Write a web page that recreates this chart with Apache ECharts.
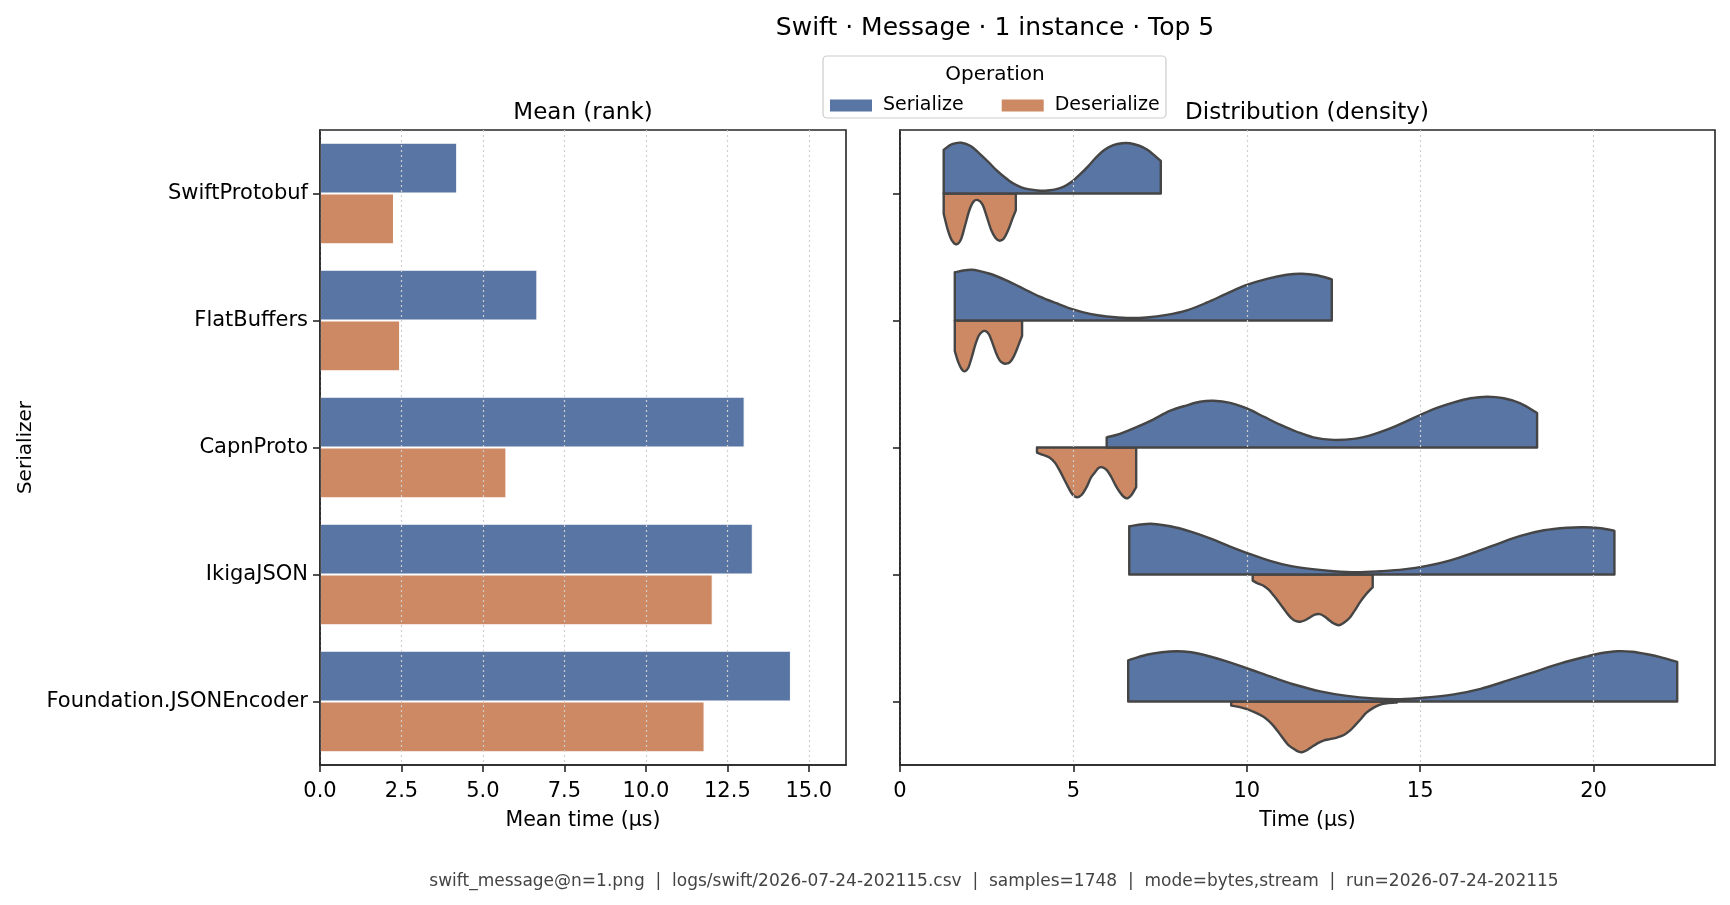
<!DOCTYPE html>
<html><head><meta charset="utf-8">
<script src="https://cdn.jsdelivr.net/npm/echarts@6/dist/echarts.min.js"></script>
<style>html,body{margin:0;padding:0;background:#fff}#chart{width:1730px;height:905px}</style>
</head><body><div id="chart"></div>
<script>
// ---------------- data ----------------
const categories = ['SwiftProtobuf', 'FlatBuffers', 'CapnProto', 'IkigaJSON', 'Foundation.JSONEncoder'];
const operations = ['Serialize', 'Deserialize'];
const serializeMean = [4.21, 6.67, 13.03, 13.28, 14.45];
const deserializeMean = [2.27, 2.46, 5.72, 12.05, 11.80];
const meanTicks = [0, 2.5, 5, 7.5, 10, 12.5, 15];
const timeTicks = [0, 5, 10, 15, 20];

// density curves: [time (µs), relative density (peak = 1)]
const serSwiftProtobuf = [[1.26,0.86],[1.5,0.97],[1.77,1.0],[2.05,0.93],[2.30,0.78],[2.55,0.62],[2.78,0.46],[3.02,0.32],[3.26,0.2],[3.5,0.12],[3.74,0.08],[3.96,0.06],[4.18,0.055],[4.45,0.075],[4.71,0.13],[4.95,0.23],[5.19,0.375],[5.43,0.54],[5.67,0.72],[5.9,0.86],[6.15,0.95],[6.4,0.99],[6.63,0.99],[6.9,0.94],[7.11,0.87],[7.3,0.77],[7.52,0.64]];
const serFlatBuffers = [[1.58,0.95],[2.06,1.0],[2.59,0.92],[3.07,0.79],[3.55,0.63],[4.03,0.47],[4.51,0.34],[4.99,0.22],[5.48,0.13],[5.96,0.08],[6.54,0.05],[7.11,0.06],[7.69,0.11],[8.27,0.2],[8.84,0.35],[9.42,0.53],[10.0,0.70],[10.58,0.82],[11.15,0.9],[11.58,0.92],[12.02,0.89],[12.45,0.81]];
const serCapnProto = [[5.96,0.2],[6.34,0.27],[6.82,0.4],[7.3,0.55],[7.78,0.72],[8.27,0.83],[8.65,0.9],[9.04,0.92],[9.52,0.88],[10.0,0.77],[10.48,0.61],[10.96,0.45],[11.44,0.31],[11.92,0.2],[12.5,0.15],[13.08,0.17],[13.56,0.24],[14.04,0.35],[14.52,0.49],[15.0,0.64],[15.48,0.78],[15.97,0.89],[16.45,0.97],[16.93,1.0],[17.41,0.97],[17.89,0.87],[18.37,0.68]];
const serIkigaJSON = [[6.61,0.95],[7.21,1.0],[7.79,0.95],[8.36,0.85],[8.94,0.71],[9.52,0.55],[10.1,0.4],[10.67,0.27],[11.25,0.17],[11.83,0.11],[12.5,0.065],[13.17,0.045],[13.85,0.065],[14.52,0.1],[15.19,0.17],[15.87,0.28],[16.54,0.43],[17.22,0.6],[17.89,0.76],[18.57,0.87],[19.24,0.92],[19.72,0.93],[20.2,0.91],[20.6,0.86]];
const serFoundation = [[6.58,0.81],[7.11,0.92],[7.55,0.97],[7.98,0.99],[8.4,0.97],[8.75,0.92],[9.42,0.79],[10.1,0.63],[10.77,0.47],[11.44,0.32],[12.12,0.2],[12.89,0.11],[13.66,0.06],[14.42,0.045],[15.19,0.08],[15.97,0.14],[16.74,0.25],[17.51,0.41],[18.28,0.58],[19.05,0.75],[19.82,0.89],[20.2,0.95],[20.68,0.99],[21.1,0.98],[21.55,0.93],[22.0,0.86],[22.41,0.78]];

const desSwiftProtobuf = [[1.26,0.40],[1.38,0.72],[1.5,0.93],[1.63,1.0],[1.76,0.9],[1.88,0.62],[2.0,0.33],[2.12,0.16],[2.25,0.13],[2.38,0.22],[2.5,0.45],[2.63,0.72],[2.76,0.88],[2.88,0.93],[3.0,0.88],[3.12,0.72],[3.24,0.5],[3.34,0.33]];
const desFlatBuffers = [[1.58,0.6],[1.68,0.82],[1.78,0.96],[1.87,1.0],[1.97,0.93],[2.07,0.72],[2.17,0.48],[2.27,0.3],[2.37,0.22],[2.47,0.21],[2.57,0.28],[2.67,0.45],[2.77,0.64],[2.87,0.78],[2.97,0.84],[3.07,0.85],[3.17,0.82],[3.27,0.72],[3.38,0.55],[3.52,0.3]];
const desCapnProto = [[3.95,0.1],[4.1,0.14],[4.32,0.2],[4.47,0.3],[4.61,0.46],[4.73,0.62],[4.85,0.78],[4.98,0.93],[5.11,0.98],[5.24,0.93],[5.38,0.78],[5.5,0.6],[5.62,0.49],[5.73,0.4],[5.84,0.39],[5.97,0.45],[6.1,0.59],[6.22,0.75],[6.34,0.88],[6.45,0.97],[6.56,1.0],[6.68,0.93],[6.81,0.78]];
const desIkigaJSON = [[10.17,0.12],[10.3,0.17],[10.48,0.22],[10.63,0.3],[10.77,0.41],[10.92,0.54],[11.06,0.67],[11.18,0.78],[11.3,0.87],[11.42,0.92],[11.54,0.93],[11.68,0.9],[11.83,0.84],[11.96,0.79],[12.1,0.78],[12.23,0.82],[12.36,0.89],[12.5,0.96],[12.65,1.0],[12.8,0.95],[12.98,0.84],[13.12,0.7],[13.27,0.54],[13.45,0.38],[13.63,0.25]];
const desFoundation = [[9.55,0.08],[9.8,0.11],[10.0,0.15],[10.25,0.22],[10.48,0.3],[10.63,0.38],[10.77,0.48],[10.92,0.61],[11.06,0.74],[11.2,0.86],[11.35,0.93],[11.47,0.98],[11.59,1.0],[11.73,0.96],[11.88,0.89],[12.05,0.82],[12.21,0.77],[12.4,0.74],[12.6,0.71],[12.8,0.66],[12.98,0.57],[13.12,0.47],[13.27,0.36],[13.45,0.22],[13.66,0.12],[13.85,0.06],[14.04,0.035],[14.33,0.02]];

const serializeCurves = [serSwiftProtobuf, serFlatBuffers, serCapnProto, serIkigaJSON, serFoundation];
const deserializeCurves = [desSwiftProtobuf, desFlatBuffers, desCapnProto, desIkigaJSON, desFoundation];

// ---------------- style ----------------
const FONT = 'DejaVu Sans';
const BLUE = '#5875a4';
const ORANGE = '#cc8963';
const INK = '#262626';
const OUTLINE = '#454545';

function violinRenderer(curves, sign, color) {
  return function (params, api) {
    const curve = curves[params.dataIndex];
    const cat = api.value(1);
    const half = api.size([0, 1])[1] * 0.4;
    const pts = curve.map(function (c) {
      const p = api.coord([c[0], cat]);
      return [p[0], p[1] - sign * c[1] * half];
    });
    const b0 = api.coord([curve[0][0], cat]);
    const b1 = api.coord([curve[curve.length - 1][0], cat]);
    const f = function (v) { return v.toFixed(2); };
    let d = 'M' + f(b0[0]) + ' ' + f(b0[1]) + ' L' + f(pts[0][0]) + ' ' + f(pts[0][1]);
    for (let k = 0; k < pts.length - 1; k++) {
      const p0 = pts[Math.max(k - 1, 0)], p1 = pts[k], p2 = pts[k + 1], p3 = pts[Math.min(k + 2, pts.length - 1)];
      const c1 = [p1[0] + (p2[0] - p0[0]) / 6, p1[1] + (p2[1] - p0[1]) / 6];
      const c2 = [p2[0] - (p3[0] - p1[0]) / 6, p2[1] - (p3[1] - p1[1]) / 6];
      d += ' C' + f(c1[0]) + ' ' + f(c1[1]) + ' ' + f(c2[0]) + ' ' + f(c2[1]) + ' ' + f(p2[0]) + ' ' + f(p2[1]);
    }
    d += ' L' + f(b1[0]) + ' ' + f(b1[1]) + ' Z';
    return {
      type: 'path',
      shape: { pathData: d },
      style: { fill: color, stroke: OUTLINE, lineWidth: 2.4, lineJoin: 'round' }
    };
  };
}

const axisLineStyle = { color: INK, width: 1.6 };
const splitStyle = { show: true, lineStyle: { type: [2, 3], color: '#cfcfcf', width: 1.2 } };

const chart = echarts.init(document.getElementById('chart'));
chart.setOption({
  animation: false,
  backgroundColor: '#ffffff',
  textStyle: { fontFamily: FONT },
  grid: [
    { left: 320, top: 130, width: 526, height: 635, show: true, borderColor: INK, borderWidth: 1.6, backgroundColor: 'transparent', containLabel: false, outerBoundsMode: 'none' },
    { left: 900, top: 130, width: 815, height: 635, show: true, borderColor: INK, borderWidth: 1.6, backgroundColor: 'transparent', containLabel: false, outerBoundsMode: 'none' }
  ],
  legend: {
    data: [{ name: operations[0], icon: 'rect' }, { name: operations[1], icon: 'rect' }],
    left: 830, top: 96, padding: 0, itemWidth: 42, itemHeight: 12, itemGap: 38,
    selectedMode: false,
    itemStyle: { borderWidth: 0 },
    textStyle: { fontFamily: FONT, fontSize: 19, color: '#000', padding: [0, 0, 0, 6] }
  },
  xAxis: [
    {
      type: 'value', gridIndex: 0, min: 0, max: 16.14, interval: 2.5, z: 5,
      axisLine: { show: true, lineStyle: axisLineStyle },
      axisTick: { show: true, length: 7, lineStyle: axisLineStyle, customValues: meanTicks },
      axisLabel: { customValues: meanTicks, formatter: function (v) { return v.toFixed(1); }, fontSize: 21, color: '#000', margin: 16, fontFamily: FONT },
      splitLine: splitStyle,
      name: 'Mean time (µs)', nameLocation: 'middle', nameGap: 45,
      nameTextStyle: { fontSize: 20.5, color: '#000', fontFamily: FONT }
    },
    {
      type: 'value', gridIndex: 1, min: 0, max: 23.5, interval: 5, z: 5,
      axisLine: { show: true, lineStyle: axisLineStyle },
      axisTick: { show: true, length: 7, lineStyle: axisLineStyle, customValues: timeTicks },
      axisLabel: { customValues: timeTicks, fontSize: 21, color: '#000', margin: 16, fontFamily: FONT },
      splitLine: splitStyle,
      name: 'Time (µs)', nameLocation: 'middle', nameGap: 45,
      nameTextStyle: { fontSize: 20.5, color: '#000', fontFamily: FONT }
    }
  ],
  yAxis: [
    {
      type: 'category', gridIndex: 0, data: categories, inverse: true, z: 5,
      axisLine: { show: true, lineStyle: axisLineStyle },
      axisTick: { show: true, alignWithLabel: true, length: 7, lineStyle: axisLineStyle },
      axisLabel: { fontSize: 21, color: '#000', margin: 12, fontFamily: FONT },
      splitLine: { show: false },
      name: 'Serializer', nameLocation: 'middle', nameGap: 284, nameRotate: 90,
      nameTextStyle: { fontSize: 20, color: '#000', fontFamily: FONT }
    },
    {
      type: 'category', gridIndex: 1, data: categories, inverse: true, z: 5,
      axisLine: { show: true, lineStyle: axisLineStyle },
      axisTick: { show: true, alignWithLabel: true, length: 7, lineStyle: axisLineStyle },
      axisLabel: { show: false },
      splitLine: { show: false }
    }
  ],
  series: [
    {
      type: 'bar', name: operations[0], xAxisIndex: 0, yAxisIndex: 0, data: serializeMean,
      barGap: '0%', barCategoryGap: '20%',
      itemStyle: { color: BLUE, borderColor: '#ffffff', borderWidth: 1 }
    },
    {
      type: 'bar', name: operations[1], xAxisIndex: 0, yAxisIndex: 0, data: deserializeMean,
      barGap: '0%', barCategoryGap: '20%',
      itemStyle: { color: ORANGE, borderColor: '#ffffff', borderWidth: 1 }
    },
    {
      type: 'custom', name: operations[0], xAxisIndex: 1, yAxisIndex: 1,
      data: serializeCurves.map(function (c, i) { return [c[0][0], i]; }),
      encode: { x: 0, y: 1 },
      renderItem: violinRenderer(serializeCurves, 1, BLUE), z: 3
    },
    {
      type: 'custom', name: operations[1], xAxisIndex: 1, yAxisIndex: 1,
      data: deserializeCurves.map(function (c, i) { return [c[0][0], i]; }),
      encode: { x: 0, y: 1 },
      renderItem: violinRenderer(deserializeCurves, -1, ORANGE), z: 2
    }
  ],
  graphic: [
    { type: 'text', x: 995, y: 28, style: { text: 'Swift · Message · 1 instance · Top 5', font: '25px "DejaVu Sans"', fill: '#000', textAlign: 'center', textVerticalAlign: 'middle' } },
    { type: 'text', x: 583, y: 113, style: { text: 'Mean (rank)', font: '23px "DejaVu Sans"', fill: '#000', textAlign: 'center', textVerticalAlign: 'middle' } },
    { type: 'text', x: 1307, y: 113, style: { text: 'Distribution (density)', font: '23px "DejaVu Sans"', fill: '#000', textAlign: 'center', textVerticalAlign: 'middle' } },
    { type: 'rect', z: -1, shape: { x: 823, y: 56, width: 343, height: 62, r: 4 }, style: { fill: '#ffffff', stroke: '#cccccc', lineWidth: 1.2 } },
    { type: 'text', x: 995, y: 75, style: { text: 'Operation', font: '20px "DejaVu Sans"', fill: '#000', textAlign: 'center', textVerticalAlign: 'middle' } },
    { type: 'text', x: 994, y: 882, style: { text: 'swift_message@n=1.png  |  logs/swift/2026-07-24-202115.csv  |  samples=1748  |  mode=bytes,stream  |  run=2026-07-24-202115', font: '17px "DejaVu Sans"', fill: '#444444', textAlign: 'center', textVerticalAlign: 'middle' } }
  ]
});
</script>
</body></html>
